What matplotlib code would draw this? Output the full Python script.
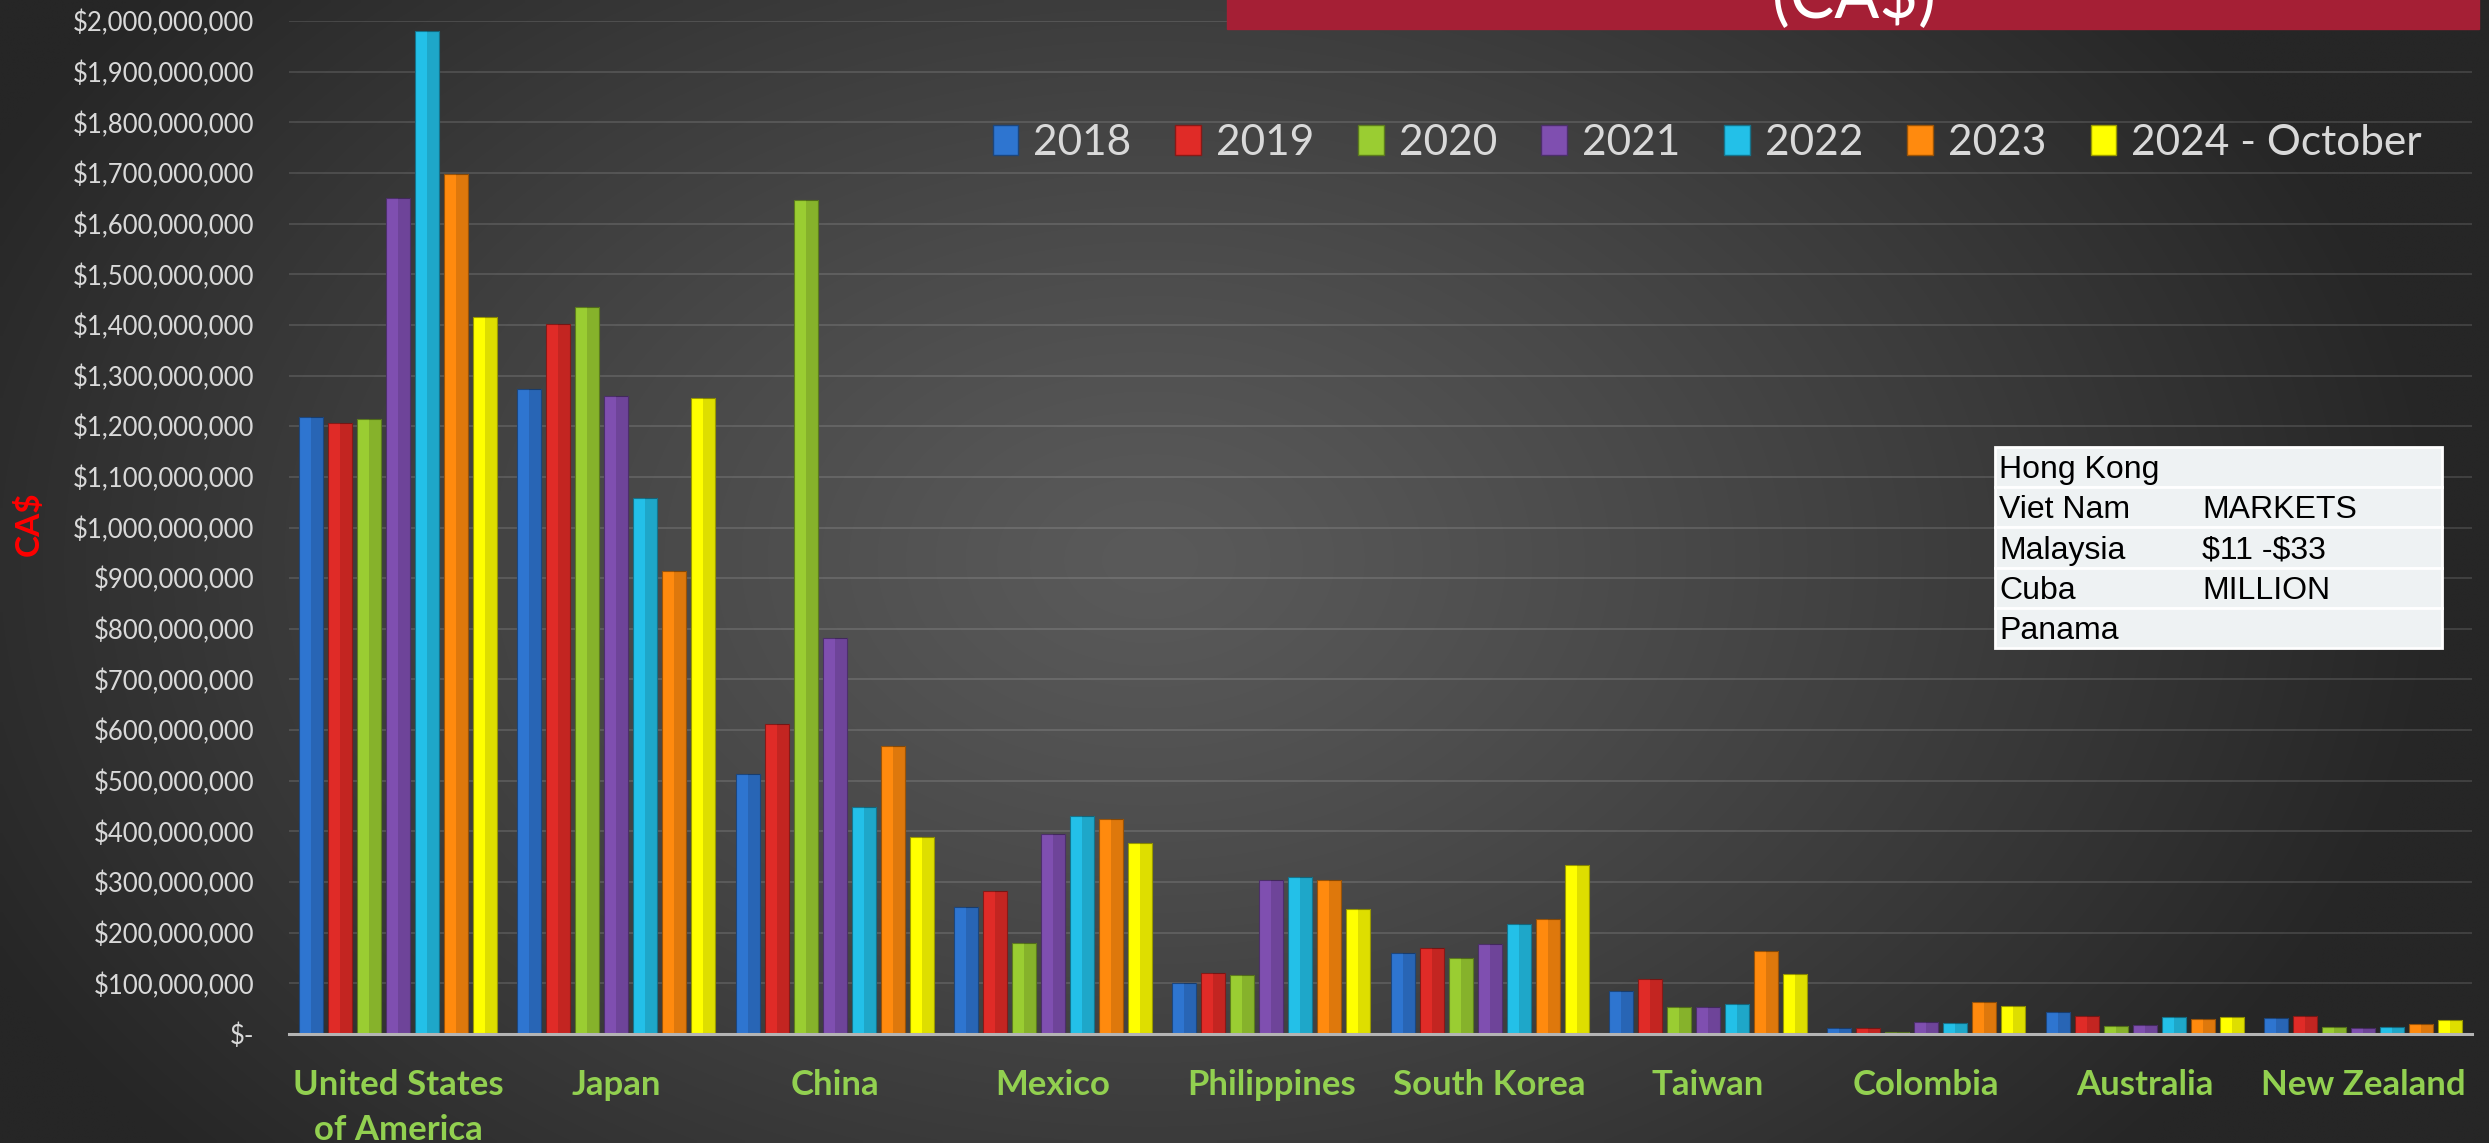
import numpy as np
import matplotlib
matplotlib.use('Agg')
import matplotlib.pyplot as plt
from matplotlib.patches import Rectangle, Patch
from matplotlib.colors import to_rgb
from matplotlib.ticker import FuncFormatter, MultipleLocator

## Data (millions of CA$)
countries = ['United States\nof America', 'Japan', 'China', 'Mexico', 'Philippines',
             'South Korea', 'Taiwan', 'Colombia', 'Australia', 'New Zealand']
years = ['2018', '2019', '2020', '2021', '2022', '2023', '2024 - October']

v2018 = [1219, 1273, 513, 251, 101, 159, 85, 11, 43, 31]
v2019 = [1207, 1401, 613, 282, 120, 170, 109, 12, 35, 35]
v2020 = [1215, 1436, 1646, 180, 116, 151, 53, 4, 15, 13]
v2021 = [1651, 1259, 781, 395, 305, 178, 53, 23, 17, 11]
v2022 = [1981, 1059, 448, 431, 309, 218, 59, 22, 33, 13]
v2023 = [1697, 914, 569, 425, 305, 228, 164, 64, 29, 19]
v2024 = [1415, 1255, 389, 378, 247, 333, 118, 56, 34, 28]

other_markets = ['Hong Kong', 'Viet Nam', 'Malaysia', 'Cuba', 'Panama']
note_lines = ['', 'MARKETS', r'\$11 -\$33', 'MILLION', '']

colors = ['#2e75d0', '#e02b27', '#9acd32', '#7f4fb0', '#23c0e8', '#ff8a0e', '#ffff00']

series = [v2018, v2019, v2020, v2021, v2022, v2023, v2024]

plt.rcParams['font.family'] = ['Lato', 'DejaVu Sans']

W, H = 2489, 1143
fig = plt.figure(figsize=(W / 100, H / 100), dpi=100)


def darker(c, f=0.7):
    r, g, b = to_rgb(c)
    return (r * f, g * f, b * f)


## background: soft radial gradient
bg = fig.add_axes([0, 0, 1, 1], zorder=-10)
gx, gy = np.meshgrid(np.linspace(0, W, 500), np.linspace(0, H, 230))
d = np.sqrt(((gx - 1150) / 1300) ** 2 + ((gy - 560) / 900) ** 2)
d = np.clip(d, 0, 1) ** 1.2
c0 = np.array(to_rgb('#5a5a5a'))
c1 = np.array(to_rgb('#262626'))
img = c0[None, None, :] * (1 - d[..., None]) + c1[None, None, :] * d[..., None]
bg.imshow(img, extent=(0, W, H, 0), aspect='auto', interpolation='bilinear')
bg.set_xlim(0, W)
bg.set_ylim(H, 0)
bg.axis('off')

## main chart
ax = fig.add_axes([289 / W, 1 - 1034 / H, (2472 - 289) / W, (1034 - 21) / H], zorder=1)
ax.set_facecolor('none')

x = np.arange(len(countries))
step = 0.1328
w = 0.11
for i, (vals, c) in enumerate(zip(series, colors)):
    vals = np.array(vals) * 1e6
    pos = x + (i - 3) * step
    ax.bar(pos, vals, w, color=c, edgecolor=darker(c, 0.6), linewidth=0.8, zorder=3)
    # darker right half to fake the bevel look
    ax.bar(pos + w / 4, vals, w / 2, color='black', alpha=0.13, linewidth=0, zorder=4)

ax.set_xlim(-0.5, len(countries) - 0.5)
ax.set_ylim(0, 2e9)
ax.yaxis.set_major_locator(MultipleLocator(1e8))
ax.yaxis.set_major_formatter(FuncFormatter(lambda v, p: '$-' if v == 0 else '${:,.0f}'.format(v)))
ax.yaxis.grid(True, color='white', alpha=0.12, linewidth=1.5)
ax.set_axisbelow(True)

for s in ['left', 'right', 'top']:
    ax.spines[s].set_visible(False)
ax.spines['bottom'].set_color('#b4b4b4')
ax.spines['bottom'].set_linewidth(2.2)
ax.spines['bottom'].set_zorder(5)

ax.set_xticks(x)
ax.set_xticklabels(countries, fontweight='bold', linespacing=1.5)
ax.tick_params(axis='x', length=0, pad=25, labelsize=25, labelcolor='#92d050')
ax.tick_params(axis='y', length=0, pad=25, labelsize=18.5, labelcolor='#d9d9d9')

fig.text(29 / W, 1 - 524 / H, 'CA$', rotation=90, ha='center', va='center',
         color='#ff0000', fontsize=24, fontweight='bold')

## legend
handles = [Patch(facecolor=c, edgecolor=darker(c, 0.6)) for c in colors]
fig.legend(handles, years, loc='center', bbox_to_anchor=(1707 / W, 1 - 143 / H),
           ncol=7, frameon=False, fontsize=30.5, handlelength=0.6, handleheight=0.7,
           handletextpad=0.35, columnspacing=1.05, labelcolor='#d9d9d9')

## decorations: title strip and the small markets box
deco = fig.add_axes([0, 0, 1, 1], zorder=5)
deco.set_xlim(0, W)
deco.set_ylim(H, 0)
deco.axis('off')
deco.patch.set_alpha(0)

deco.add_patch(Rectangle((1227, -5), 1252, 34, color='#a51f35'))
deco.text(1854, 17, '(CA$)', ha='center', va='baseline', fontsize=48,
          color='white', fontweight='normal')

row_h = 40.2
for k, (name, note) in enumerate(zip(other_markets, note_lines)):
    top = 447 + k * row_h
    deco.add_patch(Rectangle((1995, top), 447, row_h, facecolor='#eef2f3',
                             edgecolor='white', linewidth=2))
    deco.text(1999, top + row_h - 9, name, ha='left', va='baseline', fontsize=23,
              color='black', family=['Liberation Sans', 'DejaVu Sans'])
    if note:
        deco.text(2202, top + row_h - 9, note, ha='left', va='baseline', fontsize=23,
                  color='black', family=['Liberation Sans', 'DejaVu Sans'])

fig.savefig('out.png', dpi=100)
